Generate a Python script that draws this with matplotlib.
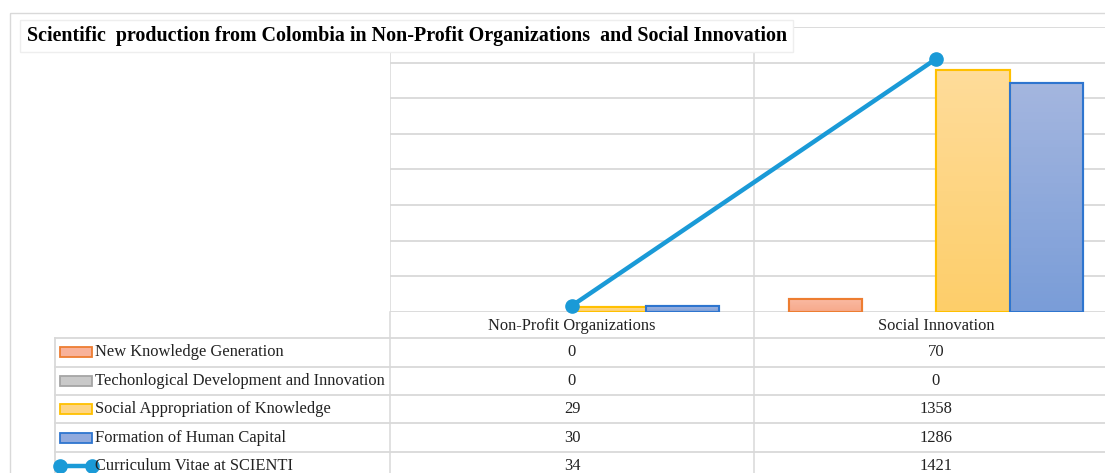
import numpy as np
import matplotlib
matplotlib.use("Agg")
import matplotlib.pyplot as plt
from matplotlib.patches import Rectangle
from matplotlib.colors import LinearSegmentedColormap
import matplotlib.transforms as mtransforms

# data
categories = ["Non-Profit Organizations", "Social Innovation"]
series_names = ["New Knowledge Generation",
                "Techonlogical Development and Innovation",
                "Social Appropriation of Knowledge",
                "Formation of Human Capital"]
new_knowledge = [0, 70]
tech_dev = [0, 0]
social_appr = [29, 1358]
human_capital = [30, 1286]
cv_name = "Curriculum Vitae at SCIENTI"
cv_scienti = [34, 1421]

bar_series = [new_knowledge, tech_dev, social_appr, human_capital]
grad_top = ["#FAB9A2", "#D2D2D2", "#FFDC9A", "#A4B6DF"]
grad_bot = ["#F6A98A", "#BDBDBD", "#FDCE6A", "#7A9DD8"]
fills = ["#F8B29A", "#C9C9C9", "#FED584", "#91AADD"]
edges = ["#ED7D31", "#A5A5A5", "#FFC000", "#2E75CF"]
line_col = "#1A9AD7"
grid_col = "#D9D9D9"

W, H = 1105, 473
fig = plt.figure(figsize=(W / 100, H / 100), dpi=100)
fig.patch.set_facecolor("white")

# plot area in pixels: left 390, right 1118, top 27, baseline 311.7
x0, x1, ytop, ybase = 390, 1118, 27.1, 311.7
ax = fig.add_axes([x0 / W, 1 - ybase / H, (x1 - x0) / W, (ybase - ytop) / H])
ax.set_xlim(-0.5, 1.5)
ax.set_ylim(0, 1600)
ax.set_yticks(np.arange(0, 1601, 200))
ax.set_xticks([])
ax.tick_params(left=False, labelleft=False)
for s in ax.spines.values():
    s.set_visible(False)
ax.grid(axis="y", color=grid_col, lw=1.3)
ax.set_axisbelow(True)
for xv in [-0.5, 0.5, 1.5]:
    ax.axvline(xv, color=grid_col, lw=1.1, zorder=0.5)

x = np.arange(len(categories))
bw = 0.202
offsets = np.array([-1.5, -0.5, 0.5, 1.5]) * bw
grad = np.linspace(1, 0, 64).reshape(-1, 1)
for k, (vals, off) in enumerate(zip(bar_series, offsets)):
    cmap = LinearSegmentedColormap.from_list("g%d" % k, [grad_bot[k], grad_top[k]])
    lws = [1.5 if v > 0 else 0 for v in vals]
    bars = ax.bar(x + off, vals, width=bw, color=fills[k], edgecolor=edges[k],
                  lw=lws, zorder=2)
    for b in bars:
        if b.get_height() <= 0:
            continue
        bx, by = b.get_x(), b.get_y()
        im = ax.imshow(grad, cmap=cmap, aspect="auto", zorder=2.1,
                       extent=[bx, bx + b.get_width(), by, by + b.get_height()])
        im.set_clip_path(b)
        edge = Rectangle((bx, by), b.get_width(), b.get_height(), fill=False,
                         ec=edges[k], lw=1.5, zorder=2.2)
        ax.add_patch(edge)
ax.set_xlim(-0.5, 1.5)
ax.set_ylim(0, 1600)
ax.plot(x, cv_scienti, color=line_col, lw=3.2, marker="o", ms=9.5,
        zorder=3, clip_on=False)

# overlay in pixel coordinates for table, title and borders
ov = fig.add_axes([0, 0, 1, 1])
ov.set_xlim(0, W)
ov.set_ylim(H, 0)
ov.axis("off")
ov.patch.set_alpha(0)

ov.add_patch(Rectangle((10, 13.5), 1200, 600, fill=False, ec=grid_col, lw=1))
ov.add_patch(Rectangle((20, 20), 773, 32, fc="white", ec="#EEEEEE", lw=1, zorder=5))
ov.text(27, 36.5, "Scientific  production from Colombia in Non-Profit Organizations  and Social Innovation",
        fontsize=14.4, fontweight="bold", family="Liberation Serif",
        va="center", ha="left", zorder=6)

# table
tfont = dict(family="Liberation Serif", fontsize=11.9, color="#222222")
row_h = 28.35
row0 = 338.3
mix = mtransforms.blended_transform_factory(ax.transData, ov.transData)
for i, c in enumerate(categories):
    ov.text(i, (ybase + row0) / 2 + 1, c, transform=mix, ha="center", va="center", **tfont)

ov.plot([55, W + 20], [row0, row0], color=grid_col, lw=1.3)
ov.plot([55, 55], [row0, H + 10], color=grid_col, lw=1.3)
ov.plot([x0, x0], [ybase, H + 10], color=grid_col, lw=1.1)
ov.plot([754, 754], [ybase, H + 10], color=grid_col, lw=1.1)

names = series_names + [cv_name]
values = bar_series + [cv_scienti]
for r, (nm, vals) in enumerate(zip(names, values)):
    yc = row0 + row_h * (r + 0.5)
    yb = row0 + row_h * (r + 1)
    ov.plot([55, W + 20], [yb, yb], color=grid_col, lw=1.3)
    if r < 4:
        ov.add_patch(Rectangle((60, yc - 5), 32, 10, fc=fills[r], ec=edges[r], lw=1.3))
    else:
        ov.plot([60, 92], [yc, yc], color=line_col, lw=3.2, marker="o", ms=9.5,
                clip_on=False)
    ov.text(95, yc, nm, ha="left", va="center", **tfont)
    for i, v in enumerate(vals):
        ov.text(i, yc, str(v), transform=mix, ha="center", va="center", **tfont)

fig.savefig("out.png", dpi=100)
